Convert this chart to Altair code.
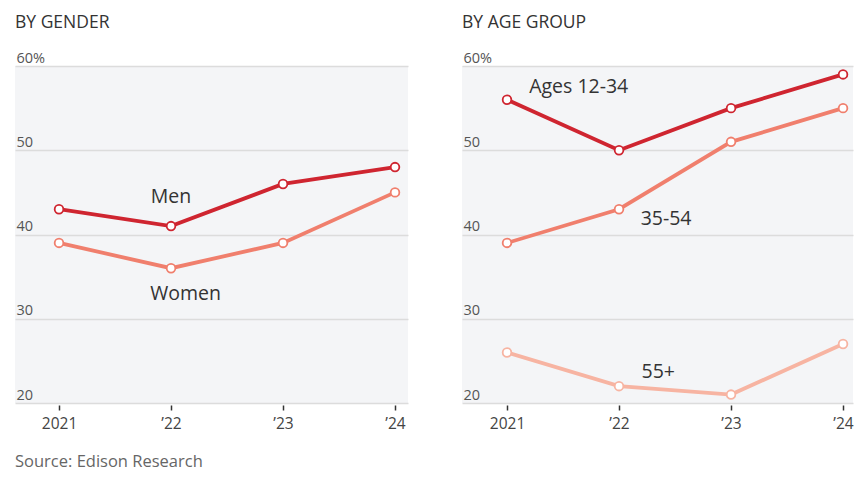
import altair as alt
import pandas as pd

years = [2021, 2022, 2023, 2024]

gender_series = ["Men", "Women"]
men = [43, 41, 46, 48]
women = [39, 36, 39, 45]

age_series = ["Ages 12-34", "35-54", "55+"]
age_12_34 = [56, 50, 55, 59]
age_35_54 = [39, 43, 51, 55]
age_55_plus = [26, 22, 21, 27]

gender_label_x = [2022.0, 2022.13]
gender_label_y = [44.4, 32.9]
age_label_x = [2021.64, 2022.42, 2022.35]
age_label_y = [57.5, 41.8, 23.7]

y_ticks = [20, 30, 40, 50, 60]

colors = {"Men": "#cf2530", "Women": "#f07f6d",
          "Ages 12-34": "#cf2530", "35-54": "#f07f6d", "55+": "#f7b4a2"}

FONT = "Open Sans"


def long_df(names, values):
    rows = []
    for n, vals in zip(names, values):
        for yr, v in zip(years, vals):
            rows.append({"series": n, "year": yr, "value": v})
    return pd.DataFrame(rows)


def panel(df, labels_df, names, title, xdom, width):
    x = alt.X("year:Q", scale=alt.Scale(domain=xdom, nice=False, zero=False),
              axis=alt.Axis(values=years, title=None, grid=False, domain=False,
                            ticks=True, tickSize=5, tickOffset=0, tickColor="#333333",
                            tickWidth=1.5, offset=2, labelPadding=6,
                            labelFontSize=15.5, labelColor="#444444", labelFont=FONT,
                            labelExpr="datum.value == 2021 ? '2021' : '\u2019' + substring(toString(datum.value), 2, 4)"))
    y = alt.Y("value:Q", scale=alt.Scale(domain=[20, 60], nice=False, zero=False),
              axis=alt.Axis(values=y_ticks, title=None, grid=True, gridColor="#dcdcdc",
                            gridWidth=1.3, domain=False, ticks=False,
                            labelAlign="left", labelBaseline="bottom", labelPadding=-1,
                            labelOffset=-1, labelFontSize=14.5, labelColor="#555555",
                            labelFont=FONT,
                            labelExpr="datum.value == 60 ? '60%' : toString(datum.value)"))
    color = alt.Color("series:N", scale=alt.Scale(domain=names, range=[colors[n] for n in names]),
                      legend=None)
    base = alt.Chart(df)
    lines = base.mark_line(strokeWidth=3.8).encode(x=x, y=y, color=color, detail="series:N")
    pts = base.mark_point(filled=True, fill="white", size=75, strokeWidth=1.8, opacity=1).encode(
        x=x, y=y, stroke=alt.Stroke("series:N", scale=alt.Scale(domain=names, range=[colors[n] for n in names]), legend=None))
    txt = alt.Chart(labels_df).mark_text(fontSize=19.5, color="#333333", font=FONT, align="center",
                                         baseline="middle").encode(x=alt.X("lx:Q"), y=alt.Y("ly:Q"), text="series:N")
    return alt.layer(lines, pts, txt).properties(
        width=width, height=337,
        title=alt.TitleParams(title, anchor="start", fontSize=17.5, fontWeight="normal",
                              color="#333333", font=FONT, offset=19))


gdf = long_df(gender_series, [men, women])
adf = long_df(age_series, [age_12_34, age_35_54, age_55_plus])
glab = pd.DataFrame({"series": gender_series, "lx": gender_label_x, "ly": gender_label_y})
alab = pd.DataFrame({"series": age_series, "lx": age_label_x, "ly": age_label_y})

left = panel(gdf, glab, gender_series, "BY GENDER", [2020.607, 2024.116], 393)
right = panel(adf, alab, age_series, "BY AGE GROUP", [2020.598, 2024.089], 391)

chart = alt.hconcat(left, right, spacing=54).properties(
    title=alt.TitleParams("Source: Edison Research", orient="bottom", anchor="start",
                          fontSize=16.5, fontWeight="normal", color="#666666", font=FONT, offset=22),
    padding={"left": 7, "top": 5, "right": 2, "bottom": 2},
).configure_view(fill="#f4f5f7", stroke=None).resolve_scale(color="independent", stroke="independent")

chart.save("out.html", embed_options={"renderer": "svg", "actions": False})
